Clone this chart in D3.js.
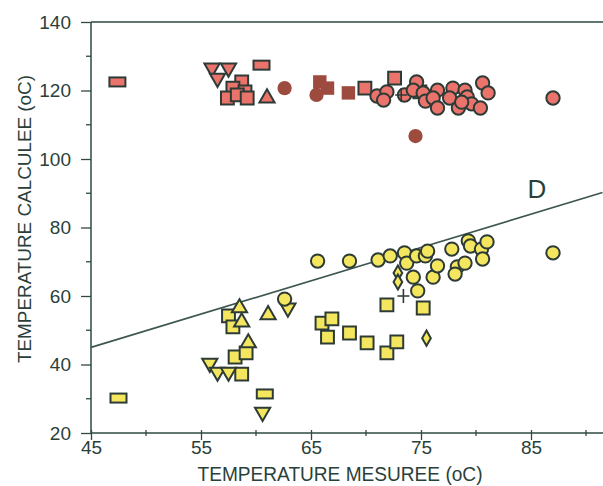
<!DOCTYPE html>
<html><head><meta charset="utf-8">
<script src="https://cdn.jsdelivr.net/npm/d3@7"></script>
<style>body{margin:0;background:#fff}svg{display:block}text{font-family:"Liberation Sans",Arial,sans-serif;fill:#2b3f3a}</style>
</head><body><div id="chart"></div>
<script>
const xTicks = [45, 55, 65, 75, 85];
const yTicks = [20, 40, 60, 80, 100, 120, 140];
const xTitle = "TEMPERATURE MESUREE (oC)";
const yTitle = "TEMPERATURE CALCULEE (oC)";
const lineD = [[45, 45], [91.5, 90.2]];

// upper (red) group
const redRect = [[47.4, 122.5], [60.5, 127.4]];
const redDown = [[56.0, 126.6], [56.5, 123.6], [57.5, 126.6]];
const redSquare = [[58.7, 122.5], [57.9, 120.7], [59.0, 119.6], [57.4, 117.8], [58.3, 118.7], [59.2, 117.8], [69.9, 120.7], [72.6, 123.6], [74.9, 119.6]];
const redUp = [[61.0, 117.8]];
const redCircle = [[71.0, 118.4], [71.9, 119.6], [71.6, 117.2], [73.5, 118.7], [74.6, 122.5], [74.3, 120.1], [75.2, 119.3], [75.4, 116.9], [76.5, 120.1], [76.1, 117.8], [76.5, 114.9], [77.9, 120.7], [77.6, 117.8], [78.4, 114.9], [79.0, 120.1], [79.2, 118.1], [79.6, 116.1], [80.4, 114.9], [80.6, 122.2], [81.1, 119.3], [78.7, 116.6], [87.0, 117.8]];
const redPlus = [[73.2, 118.7]];
const brownCircle = [[62.6, 120.7], [65.5, 118.7], [74.5, 106.7]];
const brownSquare = [[65.8, 122.5], [66.5, 120.7], [68.4, 119.3]];

// lower (yellow) group
const yelRect = [[47.5, 30.2], [60.8, 31.4]];
const yelSquare = [[57.5, 54.2], [57.9, 51.0], [58.1, 42.2], [59.1, 43.4], [58.7, 37.2], [66.0, 52.1], [66.9, 53.3], [66.5, 48.0], [68.5, 49.2], [70.1, 46.3], [71.9, 43.4], [72.8, 46.6], [71.9, 57.4], [75.2, 56.5]];
const yelUp = [[58.5, 56.5], [58.7, 52.4], [59.3, 46.3], [61.1, 54.5]];
const yelDown = [[55.8, 40.4], [56.5, 37.8], [57.5, 37.8], [60.6, 26.1], [62.9, 56.5]];
const yelCircle = [[62.6, 59.1], [65.6, 70.2], [68.5, 70.2], [71.1, 70.5], [72.2, 71.7], [73.5, 72.6], [73.7, 69.6], [74.6, 71.7], [75.4, 71.7], [75.6, 73.1], [74.3, 65.5], [74.7, 61.5], [76.1, 65.5], [76.5, 68.8], [77.8, 73.7], [78.3, 68.5], [78.1, 66.4], [79.0, 69.6], [79.3, 76.1], [79.5, 74.6], [80.5, 73.7], [81.0, 75.8], [80.6, 70.8], [87.0, 72.6]];
const yelDiamond = [[75.5, 47.7], [72.9, 66.7], [72.9, 64.1]];
const yelPlus = [[73.4, 60.0]];

const W = 603, H = 486;
const x = d3.scaleLinear().domain([45, 91.5]).range([91, 602.5]);
const y = d3.scaleLinear().domain([20, 140]).range([433, 22]);

const axisCol = "#2e4a43", edge = "#2d3b37";
const RED = "#ea736b", BROWN = "#9d4a3f", YEL = "#f4e65e";

const svg = d3.select("#chart").append("svg").attr("width", W).attr("height", H);
svg.append("rect").attr("width", W).attr("height", H).attr("fill", "#fff");

// axes
const xAxis = d3.axisBottom(x).tickValues(xTicks).tickSize(7).tickFormat(d3.format("d"));
const gx = svg.append("g").attr("transform", "translate(0,433)").call(xAxis);
gx.select(".domain").attr("stroke", axisCol).attr("stroke-width", 1.5).attr("d", "M91,0H603");
gx.selectAll(".tick line").attr("stroke", axisCol).attr("stroke-width", 1.3).attr("y1", -3);
gx.selectAll(".tick text").attr("font-size", 19).attr("dy", "0.8em").attr("y", 6).style("fill", "#2b3f3a");
gx.selectAll(".minor").data([50, 60, 70, 80, 90]).enter().append("line")
  .attr("x1", d => x(d)).attr("x2", d => x(d)).attr("y1", -3).attr("y2", 3)
  .attr("stroke", axisCol).attr("stroke-width", 1.3);

const yAxis = d3.axisLeft(y).tickValues(yTicks).tickSize(10).tickPadding(10).tickFormat(d3.format("d"));
const gy = svg.append("g").attr("transform", "translate(91,0)").call(yAxis);
gy.select(".domain").attr("stroke", axisCol).attr("stroke-width", 1.5).attr("d", "M0,22V433");
gy.selectAll(".tick line").attr("stroke", axisCol).attr("stroke-width", 1.3).attr("x2", -10);
gy.selectAll(".tick text").attr("font-size", 19).style("fill", "#2b3f3a");
gy.selectAll(".minor").data([30, 50, 70, 90, 110, 130]).enter().append("line")
  .attr("x1", -5).attr("x2", 0).attr("y1", d => y(d)).attr("y2", d => y(d))
  .attr("stroke", axisCol).attr("stroke-width", 1.3);

// top border
svg.append("line").attr("x1", 91).attr("x2", 603).attr("y1", 22).attr("y2", 22)
  .attr("stroke", axisCol).attr("stroke-width", 1.5);

// titles
svg.append("text").attr("x", 340).attr("y", 481).attr("text-anchor", "middle")
  .attr("font-size", 20).attr("textLength", 285).attr("lengthAdjust", "spacingAndGlyphs").text(xTitle);
svg.append("text").attr("transform", "translate(31,219) rotate(-90)").attr("text-anchor", "middle")
  .attr("font-size", 19).attr("textLength", 288).attr("lengthAdjust", "spacingAndGlyphs").text(yTitle);

// line D
svg.append("path").attr("d", d3.line().x(d => x(d[0])).y(d => y(d[1]))(lineD))
  .attr("stroke", "#3d5650").attr("stroke-width", 1.6).attr("fill", "none");
svg.append("text").attr("x", 537).attr("y", 198).attr("text-anchor", "middle")
  .attr("font-size", 26).text("D");

// markers
const g = svg.append("g");
function sym(data, type, size, fill, stroke, rot) {
  g.selectAll(null).data(data).enter().append("path")
    .attr("d", d3.symbol().type(type).size(size)())
    .attr("transform", d => `translate(${x(d[0])},${y(d[1])})` + (rot ? ` rotate(${rot})` : ""))
    .attr("fill", fill).attr("stroke", stroke ? edge : "none").attr("stroke-width", 2);
}
function rects(data, fill) {
  g.selectAll(null).data(data).enter().append("rect")
    .attr("x", d => x(d[0]) - 8).attr("y", d => y(d[1]) - 4.5).attr("width", 16).attr("height", 9)
    .attr("fill", fill).attr("stroke", edge).attr("stroke-width", 2);
}
function plus(data) {
  g.selectAll(null).data(data).enter().append("path")
    .attr("d", d => `M${x(d[0]) - 6},${y(d[1])}h12M${x(d[0])},${y(d[1]) - 7}v14`)
    .attr("stroke", edge).attr("stroke-width", 1.6).attr("fill", "none");
}

rects(redRect, RED);
sym(redDown, d3.symbolTriangle, 100, RED, true, 180);
sym(redSquare, d3.symbolSquare, 165, RED, true);
sym(redUp, d3.symbolTriangle, 100, RED, true);
sym(brownCircle, d3.symbolCircle, 160, BROWN, false);
sym(brownSquare, d3.symbolSquare, 180, BROWN, false);
sym(redCircle, d3.symbolCircle, 140, RED, true);
plus(redPlus);

rects(yelRect, YEL);
sym(yelSquare, d3.symbolSquare, 165, YEL, true);
sym(yelUp, d3.symbolTriangle, 100, YEL, true);
sym(yelDown, d3.symbolTriangle, 100, YEL, true, 180);
sym(yelCircle, d3.symbolCircle, 140, YEL, true);
sym(yelDiamond, d3.symbolDiamond, 65, YEL, true);
plus(yelPlus);
</script></body></html>
